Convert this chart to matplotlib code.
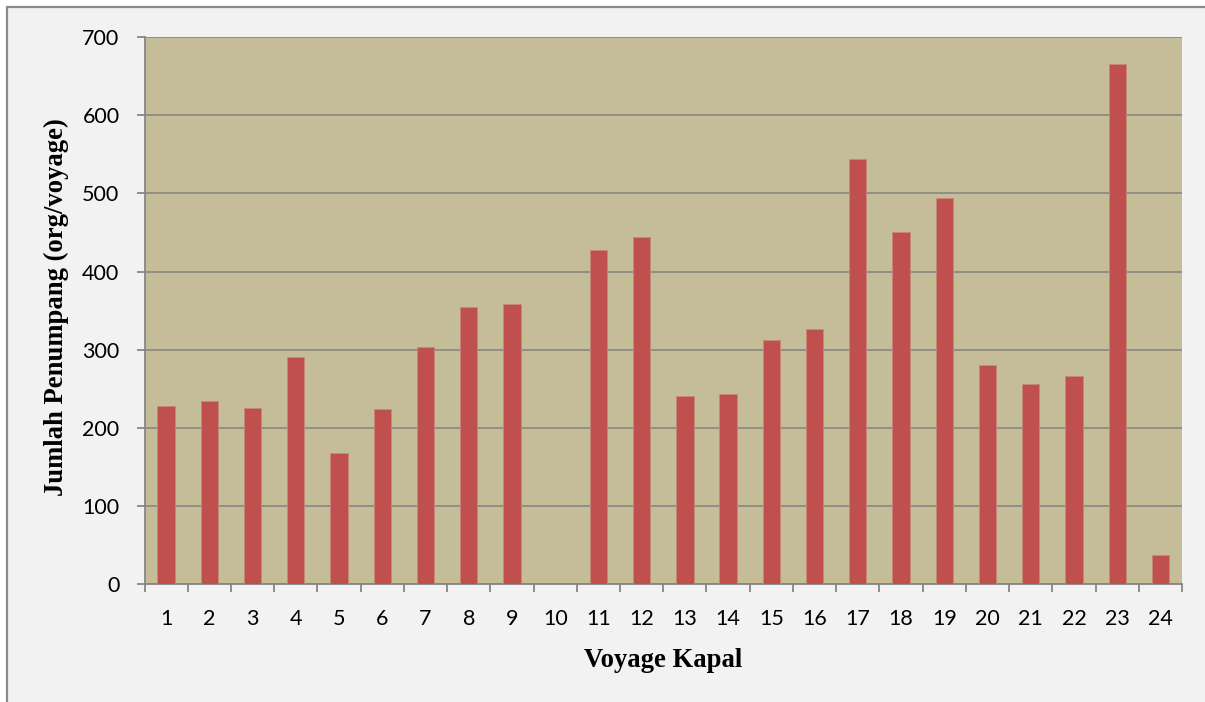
import numpy as np
import matplotlib
matplotlib.use("Agg")
import matplotlib.pyplot as plt
from matplotlib.patches import Rectangle

# Passengers per voyage
voyages = [str(i) for i in range(1, 25)]
passengers = [228, 234, 225, 291, 168, 224, 304, 355, 358, 0, 427, 444,
              241, 244, 313, 327, 544, 451, 494, 280, 256, 266, 666, 38]
y_ticks = [0, 100, 200, 300, 400, 500, 600, 700]

BAR_COLOR = "#C0504D"
PLOT_BG = "#C4BD97"
FRAME_BG = "#F2F2F2"
GRID = "#868686"

W, H = 1205, 702
fig = plt.figure(figsize=(W / 100, H / 100), dpi=100, facecolor="white")

# Chart frame (runs off the right and bottom edges)
frame = Rectangle((7 / W, -0.05), 1.1, (H - 7) / H + 0.05, transform=fig.transFigure,
                  facecolor=FRAME_BG, edgecolor="#8C8C8C", linewidth=1.6, zorder=-10)
fig.add_artist(frame)

ax = fig.add_axes([144.5 / W, (H - 584.3) / H, (1182 - 144.5) / W, (584.3 - 37) / H])
ax.set_zorder(1)
ax.set_facecolor(PLOT_BG)

x = np.arange(len(voyages))
ax.bar(x, passengers, width=0.4, color=BAR_COLOR, edgecolor="#C8867C",
       linewidth=0.6, zorder=3)

ax.set_xlim(-0.5, len(voyages) - 0.5)
ax.set_ylim(0, 700)
ax.set_yticks(y_ticks)
ax.set_yticklabels([str(v) for v in y_ticks])
ax.set_xticks(x)
ax.set_xticklabels(voyages)
ax.set_xticks(np.arange(-0.5, len(voyages)), minor=True)

ax.yaxis.grid(True, color=GRID, linewidth=1.2, zorder=1)
ax.set_axisbelow(True)

for side in ("top", "right"):
    ax.spines[side].set_visible(False)
for side in ("left", "bottom"):
    ax.spines[side].set_color(GRID)
    ax.spines[side].set_linewidth(1.3)

ax.tick_params(axis="x", which="major", length=0, pad=18, labelsize=15.5)
ax.tick_params(axis="x", which="minor", length=6, width=1.3, color=GRID, direction="out")
ax.tick_params(axis="y", length=6, width=1.3, color=GRID, pad=12, labelsize=15.5)
for lbl in ax.get_xticklabels() + ax.get_yticklabels():
    lbl.set_fontfamily("Lato")

label_font = dict(family="Liberation Serif", weight="bold", size=19.2)
ax.set_xlabel("Voyage Kapal", **label_font)
ax.set_ylabel("Jumlah Penumpang (org/voyage)", **label_font)
ax.xaxis.set_label_coords(0.5, -0.116)
ax.yaxis.set_label_coords(-0.073, 0.506)

fig.savefig("out.png", dpi=100, facecolor=fig.get_facecolor())
